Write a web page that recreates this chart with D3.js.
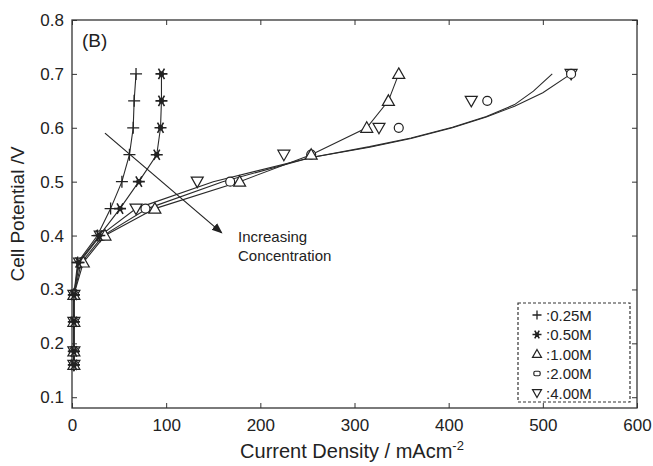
<!DOCTYPE html>
<html>
<head>
<meta charset="utf-8">
<script src="https://cdn.jsdelivr.net/npm/d3@7"></script>
<style>
  body { margin: 0; background: #fff; }
  svg { font-family: "Liberation Sans", Arial, sans-serif; }
</style>
</head>
<body>
<div id="chart"></div>
<script>
// potentials (V) shared by the measured points
var potentials = [0.7, 0.65, 0.6, 0.55, 0.5, 0.45, 0.4, 0.35, 0.29, 0.24, 0.185, 0.16];

// current density (mA cm-2) for each concentration
var cd025 = [68, 66, 65, 61, 53, 41, 27, 6, 2, 2, 2, 2];
var cd050 = [95, 95, 94, 90, 71, 51, 29, 7, 2, 2, 2, 2];
var cd100 = [347, 336, 313, 254, 178, 88, 35, 12, 2, 2, 2, 2];
var cd200 = [530, 441, 347, 254, 168, 78, 33, 10, 2, 2, 2, 2];
var cd400 = [530, 424, 326, 225, 133, 68, 30, 8, 2, 2, 2, 2];

// fitted curves for 2.00M and 4.00M (they don't go through the markers)
var fit200x = [2, 2, 10, 33, 80, 160, 254, 316, 360, 404, 440, 470, 500, 530];
var fit200y = [0.16, 0.29, 0.35, 0.4, 0.45, 0.5, 0.545, 0.564, 0.58, 0.6, 0.62, 0.64, 0.665, 0.7];
var fit400x = [2, 2, 8, 30, 68, 150, 254, 316, 360, 404, 440, 470, 490, 510];
var fit400y = [0.16, 0.29, 0.35, 0.4, 0.45, 0.5, 0.545, 0.565, 0.581, 0.601, 0.621, 0.643, 0.668, 0.7];

var labels = ["0.25M", "0.50M", "1.00M", "2.00M", "4.00M"];
var symbols = ["plus", "star", "up", "circle", "down"];
var xTicks = [0, 100, 200, 300, 400, 500, 600];
var yTicks = [0.1, 0.2, 0.3, 0.4, 0.5, 0.6, 0.7, 0.8];

var W = 653, H = 466;
var pLeft = 72, pRight = 637, pTop = 20, pBottom = 408;

var svg = d3.select("#chart").append("svg")
  .attr("width", W).attr("height", H);

var x = d3.scaleLinear().domain([0, 600]).range([pLeft, pRight]);
var y = d3.scaleLinear().domain([0.08, 0.8]).range([pBottom, pTop]);

var ink = "#222";

// frame
svg.append("rect")
  .attr("x", pLeft).attr("y", pTop)
  .attr("width", pRight - pLeft).attr("height", pBottom - pTop)
  .attr("fill", "none").attr("stroke", "#333").attr("stroke-width", 1.3);

// axes with inward ticks
var xAxis = d3.axisBottom(x).tickValues(xTicks).tickSize(-5).tickPadding(11).tickFormat(d3.format("d"));
svg.append("g").attr("transform", "translate(0," + pBottom + ")").call(xAxis)
  .call(function(g) { g.select(".domain").remove(); });
var yAxis = d3.axisLeft(y).tickValues(yTicks).tickSize(-5).tickPadding(8).tickFormat(d3.format(".1f"));
svg.append("g").attr("transform", "translate(" + pLeft + ",0)").call(yAxis)
  .call(function(g) { g.select(".domain").remove(); });
svg.append("g").attr("transform", "translate(0," + pTop + ")")
  .call(d3.axisTop(x).tickValues(xTicks).tickSize(-5).tickFormat(""))
  .call(function(g) { g.select(".domain").remove(); });
svg.append("g").attr("transform", "translate(" + pRight + ",0)")
  .call(d3.axisRight(y).tickValues(yTicks).tickSize(-5).tickFormat(""))
  .call(function(g) { g.select(".domain").remove(); });

svg.selectAll(".tick line").attr("stroke", "#333");
svg.selectAll(".tick text").attr("fill", ink).style("font-size", "17px")
  .style("font-family", "'Liberation Sans', Arial, sans-serif");

// axis titles
svg.append("text")
  .attr("transform", "translate(24," + ((pTop + pBottom) / 2) + ") rotate(-90)")
  .attr("text-anchor", "middle").attr("fill", ink).style("font-size", "19px")
  .text("Cell Potential /V");
var xt = svg.append("text")
  .attr("x", 352).attr("y", 458).attr("text-anchor", "middle")
  .attr("fill", ink).style("font-size", "20px");
xt.append("tspan").text("Current Density / mAcm");
xt.append("tspan").attr("dy", -8).style("font-size", "13px").text("-2");

svg.append("text").attr("x", 82).attr("y", 47).attr("fill", ink)
  .style("font-size", "19px").text("(B)");

// lines
var line = d3.line().x(function(d) { return x(d[0]); }).y(function(d) { return y(d[1]); });
var measured = [cd025, cd050, cd100, cd200, cd400];
function pts(xs, ys) { return xs.map(function(v, i) { return [v, ys[i]]; }); }

var lineData = [pts(cd025, potentials), pts(cd050, potentials), pts(cd100, potentials),
                pts(fit200x, fit200y), pts(fit400x, fit400y)];
svg.selectAll("path.series").data(lineData).enter().append("path")
  .attr("class", "series")
  .attr("d", line).attr("fill", "none").attr("stroke", "#2a2a2a").attr("stroke-width", 1.1);

// markers
function marker(g, type, s) {
  if (type === "plus") {
    g.append("path").attr("d", "M" + (-s) + ",0H" + s + "M0," + (-s) + "V" + s)
      .attr("stroke", ink).attr("stroke-width", 1.3).attr("fill", "none");
  } else if (type === "star") {
    var p = "";
    for (var a = 0; a < 3; a++) {
      var t = a * Math.PI / 3;
      p += "M" + (-s * Math.cos(t)) + "," + (-s * Math.sin(t)) + "L" + (s * Math.cos(t)) + "," + (s * Math.sin(t));
    }
    p += "M" + (-s) + ",0H" + s;
    g.append("path").attr("d", p).attr("stroke", ink).attr("stroke-width", 1.6).attr("fill", "none");
    g.append("circle").attr("r", s * 0.45).attr("fill", ink);
  } else if (type === "up") {
    g.append("path").attr("d", "M0," + (-s) + "L" + s + "," + (s * 0.75) + "L" + (-s) + "," + (s * 0.75) + "Z")
      .attr("stroke", ink).attr("stroke-width", 1.2).attr("fill", "#fff");
  } else if (type === "down") {
    g.append("path").attr("d", "M0," + s + "L" + s + "," + (-s * 0.75) + "L" + (-s) + "," + (-s * 0.75) + "Z")
      .attr("stroke", ink).attr("stroke-width", 1.2).attr("fill", "#fff");
  } else if (type === "circle") {
    g.append("circle").attr("r", s * 0.75).attr("stroke", ink).attr("stroke-width", 1.2).attr("fill", "#fff");
  } else if (type === "square") {
    g.append("rect").attr("x", -s * 0.7).attr("y", -s * 0.5).attr("width", s * 1.4).attr("height", s)
      .attr("rx", 1.5).attr("stroke", ink).attr("stroke-width", 1.2).attr("fill", "#fff");
  }
}

// draw order: largest concentrations first so + and * stay on top
[4, 3, 2, 1, 0].forEach(function(k) {
  measured[k].forEach(function(v, i) {
    var g = svg.append("g").attr("transform", "translate(" + x(v) + "," + y(potentials[i]) + ")");
    marker(g, symbols[k], 6);
  });
});

// arrow
var defs = svg.append("defs");
defs.append("marker").attr("id", "head").attr("viewBox", "0 0 10 10")
  .attr("refX", 9).attr("refY", 5).attr("markerWidth", 9).attr("markerHeight", 9)
  .attr("orient", "auto").append("path").attr("d", "M0,1L10,5L0,9Z").attr("fill", ink);
svg.append("line")
  .attr("x1", x(35)).attr("y1", y(0.59)).attr("x2", x(159)).attr("y2", y(0.405))
  .attr("stroke", ink).attr("stroke-width", 1.2).attr("marker-end", "url(#head)");
svg.append("text").attr("x", 238).attr("y", 242).attr("fill", ink).style("font-size", "15px").text("Increasing");
svg.append("text").attr("x", 238).attr("y", 261).attr("fill", ink).style("font-size", "15px").text("Concentration");

// legend
svg.append("rect").attr("x", 518).attr("y", 303).attr("width", 112).attr("height", 99)
  .attr("fill", "#fff").attr("stroke", "#333").attr("stroke-width", 1.2).attr("stroke-dasharray", "3,2");
var legendSym = ["plus", "star", "up", "square", "down"];
labels.forEach(function(l, i) {
  var yy = 315 + i * 19.5;
  var g = svg.append("g").attr("transform", "translate(537," + yy + ")");
  marker(g, legendSym[i], 4.5);
  svg.append("text").attr("x", 546).attr("y", yy + 5.5).attr("fill", ink)
    .style("font-size", "15px").text(":" + l);
});
</script>
</body>
</html>
